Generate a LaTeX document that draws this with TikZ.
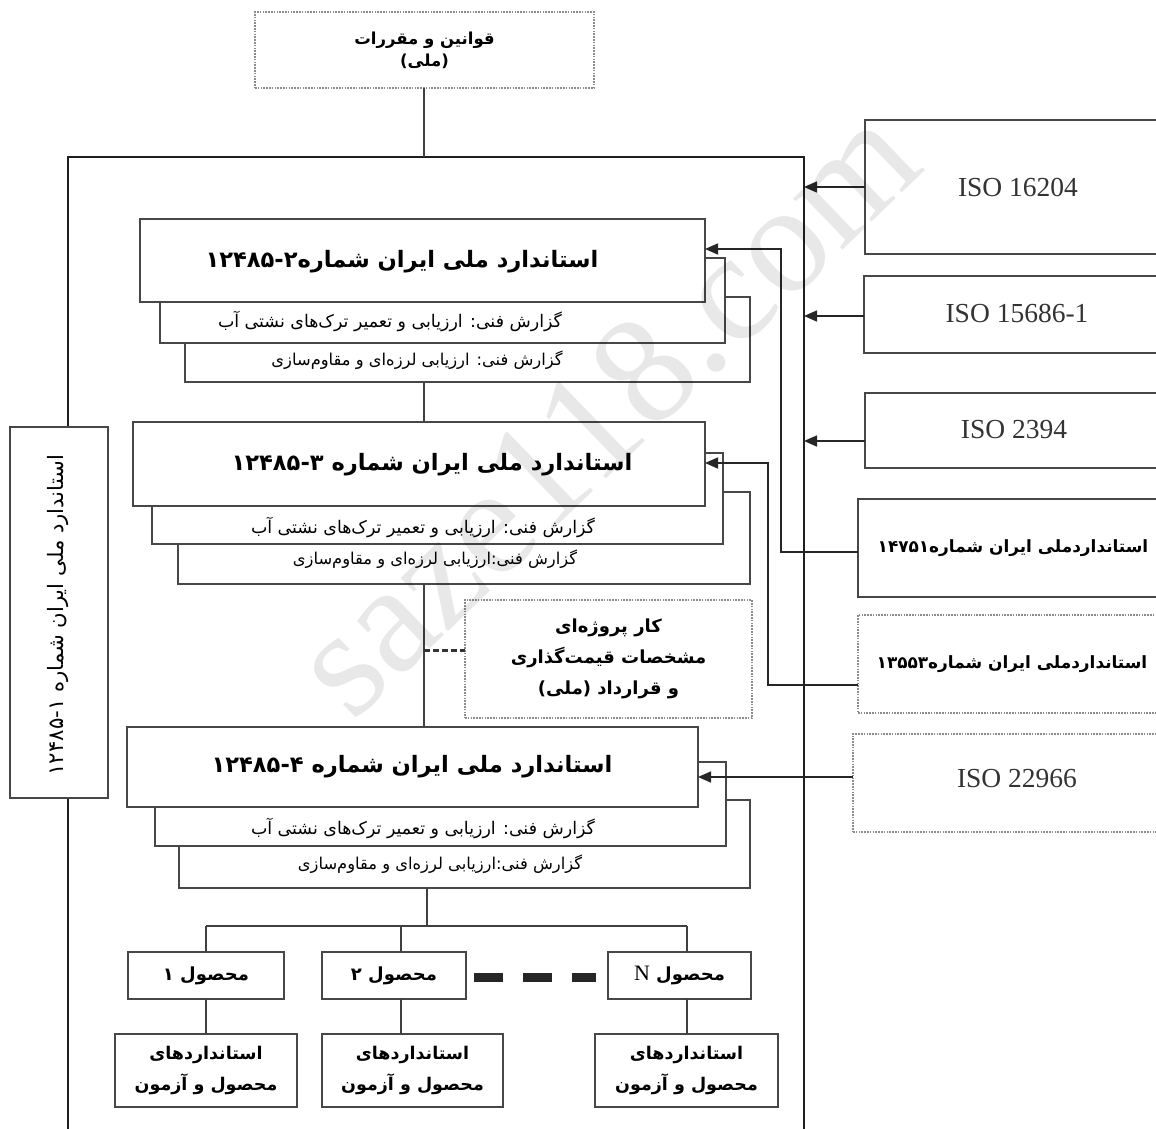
\documentclass[tikz,border=0pt]{standalone}
\usepackage{fontspec}
\setmainfont{Liberation Serif}
\newfontfamily\fa[Script=Arabic]{DejaVu Sans}
\newfontfamily\lat{Liberation Serif}
\TeXXeTstate=1
\usetikzlibrary{arrows.meta}
\newcommand\fatext[1]{\beginR #1\endR}
\newcommand\numL[1]{\beginL #1\endL}
\newcommand\mkbox[7]{%
  \pgfmathsetmacro\cxv{(#2+#4)/2}\pgfmathsetmacro\cyv{(#3+#5)/2}%
  \pgfmathsetmacro\wv{#4-#2}\pgfmathsetmacro\hv{#5-#3}%
  \node[#6, minimum width=\wv pt, minimum height=\hv pt] (#1) at (\cxv,\cyv) {#7};}
\tikzset{
  bx/.style={draw=black!72, line width=1.3pt, fill=white, inner sep=0pt, outer sep=0pt},
  dotbx/.style={draw=black!45, line width=1.1pt, dash pattern=on 1.6pt off 1.2pt, fill=white, inner sep=0pt, outer sep=0pt},
  ln/.style={draw=black!75, line width=1.4pt},
  arr/.style={draw=black!85, line width=1.6pt, -{Triangle[length=13pt,width=11pt]}},
  frame/.style={draw=black!88, line width=2.6pt},
  ttl/.style={font=\fa\bfseries\fontsize{22.6}{26}\selectfont, inner sep=0pt},
  subta/.style={font=\fa\fontsize{17.4}{20}\selectfont, inner sep=0pt},
  subtb/.style={font=\fa\fontsize{16.3}{20}\selectfont, inner sep=0pt},
  medt/.style={font=\fa\bfseries\fontsize{18}{31}\selectfont, align=center},
  stdt/.style={font=\fa\bfseries\fontsize{17.5}{31}\selectfont, align=center},
  isot/.style={font=\lat\fontsize{27.5}{30}\selectfont, text=black!80, inner sep=0pt},
  rtt/.style={font=\fa\bfseries\fontsize{16.9}{20}\selectfont, inner sep=0pt},
}
\begin{document}
\begin{tikzpicture}[x=1pt,y=-1pt]
\useasboundingbox (0,0) rectangle (1156,1129);
\clip (0,0) rectangle (1156,1129);
% frame
\coordinate (ftl) at (68,157);
\coordinate (ftr) at (804,157);
\draw[frame] (68,1140) -- (ftl) -- (ftr) -- (804,1140);
\coordinate (v) at (424,0);
\coordinate (v2) at (427,0);
% top box
\mkbox{top}{255}{12}{594}{88}{dotbx, medt, font=\fa\bfseries\fontsize{16.5}{24}\selectfont}{\fatext{قوانین و مقررات}\\[-2pt] \fatext{(ملی)}}
\draw[ln] (top.south -| v) -- (ftl -| v);
% left vertical box
\mkbox{lft}{10}{427}{108}{798}{bx}{}
\node[font=\fa\fontsize{21.2}{22}\selectfont, rotate=90, inner sep=0pt] (lftt) at (58,615) {\fatext{استاندارد ملی ایران شماره \numL{۱۲۴۸۵\kern0pt-\kern0pt۱}}};
% ---- group 2
\mkbox{b2s2}{185}{297}{750}{382}{bx}{}
\mkbox{b2s1}{160}{258}{725}{343}{bx}{}
\mkbox{b2}{140}{219}{705}{302}{bx}{}
\node[ttl] (b2t) at (402,262) {\fatext{استاندارد ملی ایران شماره\numL{۱۲۴۸۵\kern0pt-\kern0pt۲}}};
\node[subta] (b2at) at (390,321) {\fatext{گزارش فنی: ارزیابی و تعمیر ترک‌های نشتی آب}};
\node[subtb] (b2bt) at (417,360) {\fatext{گزارش فنی: ارزیابی لرزه‌ای و مقاوم‌سازی}};
% ---- group 3
\mkbox{b3s2}{178}{492}{750}{584}{bx}{}
\mkbox{b3s1}{152}{453}{723}{544}{bx}{}
\mkbox{b3}{133}{422}{705}{506}{bx}{}
\node[ttl] (b3t) at (432,465) {\fatext{استاندارد ملی ایران شماره \numL{۱۲۴۸۵\kern0pt-\kern0pt۳}}};
\node[subta] (b3at) at (423,527) {\fatext{گزارش فنی: ارزیابی و تعمیر ترک‌های نشتی آب}};
\node[subtb] (b3bt) at (435,559) {\fatext{گزارش فنی:ارزیابی لرزه‌ای و مقاوم‌سازی}};
% ---- group 4
\mkbox{b4s2}{179}{800}{750}{888}{bx}{}
\mkbox{b4s1}{155}{762}{726}{846}{bx}{}
\mkbox{b4}{127}{727}{698}{807}{bx}{}
\node[ttl] (b4t) at (412,767) {\fatext{استاندارد ملی ایران شماره \numL{۱۲۴۸۵\kern0pt-\kern0pt۴}}};
\node[subta] (b4at) at (423,828) {\fatext{گزارش فنی: ارزیابی و تعمیر ترک‌های نشتی آب}};
\node[subtb] (b4bt) at (440,864) {\fatext{گزارش فنی:ارزیابی لرزه‌ای و مقاوم‌سازی}};
% project box
\mkbox{prj}{465}{600}{752}{718}{dotbx, medt}{\fatext{کار پروژه‌ای}\\ \fatext{مشخصات قیمت‌گذاری}\\ \fatext{و قرارداد (ملی)}}
% central connectors
\draw[ln] (b2s2.south -| v) -- (b3.north -| v);
\draw[ln] (b3s2.south -| v) -- (b4.north -| v);
\coordinate (pj) at (424,650);
\draw[draw=black!80, line width=3pt, dash pattern=on 6pt off 3pt] (pj) -- (pj -| prj.west);
% products
\mkbox{p1}{128}{952}{284}{999}{bx, medt}{\fatext{محصول ۱}}
\mkbox{p2}{322}{952}{466}{999}{bx, medt}{\fatext{محصول ۲}}
\mkbox{pn}{608}{952}{751}{999}{bx, medt}{\fatext{محصول {\lat\mdseries\fontsize{22}{22}\selectfont N}}}
\mkbox{s1}{115}{1034}{297}{1107}{bx, stdt}{\fatext{استانداردهای}\\ \fatext{محصول و آزمون}}
\mkbox{s2}{322}{1034}{503}{1107}{bx, stdt}{\fatext{استانداردهای}\\ \fatext{محصول و آزمون}}
\mkbox{sn}{595}{1034}{778}{1107}{bx, stdt}{\fatext{استانداردهای}\\ \fatext{محصول و آزمون}}
\coordinate (hb) at (427,926);
\coordinate (d1) at (206,926);
\coordinate (d2) at (401,926);
\coordinate (dn) at (687,926);
\draw[ln] (b4s2.south -| v2) -- (hb);
\draw[ln] (d1) -- (dn);
\draw[ln] (d1) -- (d1 |- p1.north);
\draw[ln] (d2) -- (d2 |- p2.north);
\draw[ln] (dn) -- (dn |- pn.north);
\draw[ln] (d1 |- p1.south) -- (d1 |- s1.north);
\draw[ln] (d2 |- p2.south) -- (d2 |- s2.north);
\draw[ln] (dn |- pn.south) -- (dn |- sn.north);
\draw[draw=black!85, line width=9pt, dash pattern=on 29pt off 20pt, shorten <=8pt, shorten >=12pt] (p2.east |- 0,977) -- (pn.west |- 0,977);
% right side boxes
\mkbox{i1}{865}{120}{1170}{254}{bx}{}
\node[isot] (i1t) at (1018,187) {ISO 16204};
\mkbox{i2}{864}{276}{1170}{353}{bx}{}
\node[isot] (i2t) at (1017,313) {ISO 15686-1};
\mkbox{i3}{865}{393}{1170}{468}{bx}{}
\node[isot] (i3t) at (1014,430) {ISO 2394};
\mkbox{n1}{858}{499}{1170}{597}{bx}{}
\node[rtt] (n1t) at (1013,548) {\fatext{استانداردملی ایران شماره\numL{۱۴۷۵۱}}};
\mkbox{n2}{858}{615}{1170}{713}{dotbx}{}
\node[rtt] (n2t) at (1012,664) {\fatext{استانداردملی ایران شماره\numL{۱۳۵۵۳}}};
\mkbox{i4}{853}{734}{1170}{832}{dotbx}{}
\node[isot] (i4t) at (1017,779) {ISO 22966};
% arrows into frame
\coordinate (a1) at (804,187);
\coordinate (a2) at (804,316);
\coordinate (a3) at (804,441);
\draw[arr] (i1.west |- a1) -- (a1);
\draw[arr] (i2.west |- a2) -- (a2);
\draw[arr] (i3.west |- a3) -- (a3);
% routed arrows
\coordinate (r1) at (781,552);
\coordinate (r1t) at (781,249);
\coordinate (r2) at (768,685);
\coordinate (r2t) at (768,463);
\draw[arr] (n1.west |- r1) -- (r1) -- (r1t) -- (b2.east |- r1t);
\draw[arr] (n2.west |- r2) -- (r2) -- (r2t) -- (b3.east |- r2t);
\coordinate (r3) at (853,777);
\draw[arr] (r3) -- (b4.east |- r3);
% watermark
\node[font=\lat\fontsize{155}{155}\selectfont, text=black, opacity=0.09, rotate=44, inner sep=0pt] (wm) at (605,410) {saze118.com};
\end{tikzpicture}
\end{document}
